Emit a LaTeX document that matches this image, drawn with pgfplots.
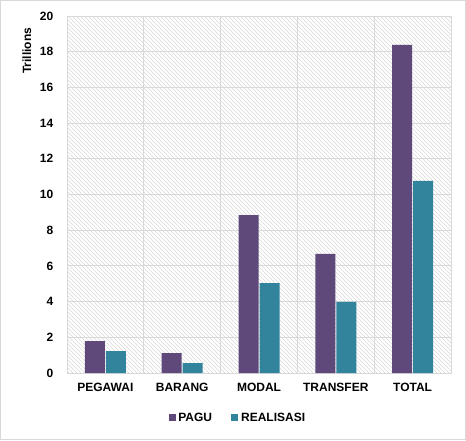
\documentclass[border=0pt]{standalone}
\usepackage{fontspec}
\setmainfont{Liberation Sans}
\usepackage{pgfplots}
\pgfplotsset{compat=1.18}
\usetikzlibrary{patterns}
\definecolor{pagu}{HTML}{5F497A}
\definecolor{real}{HTML}{31849B}
\definecolor{gridc}{HTML}{D9D9D9}
\begin{document}
\begin{tikzpicture}
\path[use as bounding box] (-50.25pt,-50.25pt) rectangle (299.25pt,279.75pt);
\draw[gridc, line width=0.75pt] (-49.875pt,-49.875pt) rectangle (298.875pt,279.375pt);
\begin{axis}[
  at={(0,0)}, anchor=south west,
  scale only axis, width=288pt, height=267.75pt,
  ymin=0, ymax=20, ytick={0,2,...,20},
  xmin=-0.5, xmax=4.5, xtick={0,...,4},
  xticklabels={PEGAWAI,BARANG,MODAL,TRANSFER,TOTAL},
  minor xtick={-0.5,0.5,...,4.5},
  xminorgrids, ymajorgrids,
  major tick length=0pt, minor tick length=0pt,
  tick style={draw=none},
  axis line style={gridc, line width=0.75pt},
  grid style={gridc, line width=0.75pt},
  axis background/.style={pattern=north west lines, pattern color=gray!30},
  ybar=0.75pt, bar width=15pt,
  ticklabel style={font=\fontsize{9}{11}\selectfont\bfseries, text=black},
  /pgf/number format/assume math mode=true,
  yticklabel style={xshift=-6.75pt},
  xticklabel style={yshift=-4pt},
  ylabel={Trillions},
  ylabel style={font=\fontsize{9}{11}\selectfont\bfseries, at={(axis description cs:-0.081,0.98)}, anchor=south east},
  legend style={at={(0.446,-0.126)}, anchor=center, draw=none, fill=none,
    legend columns=2, font=\fontsize{9}{11}\selectfont\bfseries,
    /tikz/every even column/.append style={column sep=12.5pt},
    nodes={inner sep=2pt}},
]
\addplot[fill=pagu, draw=none, legend image code/.code={\fill[pagu] (0pt,-2.625pt) rectangle (5.25pt,2.625pt);}]
  coordinates {(0,1.79) (1,1.12) (2,8.85) (3,6.67) (4,18.38)};
\addplot[fill=real, draw=none, legend image code/.code={\fill[real] (0pt,-2.625pt) rectangle (5.25pt,2.625pt);}]
  coordinates {(0,1.23) (1,0.56) (2,5.04) (3,3.99) (4,10.76)};
\legend{PAGU,REALISASI}
\end{axis}
\end{tikzpicture}
\end{document}
